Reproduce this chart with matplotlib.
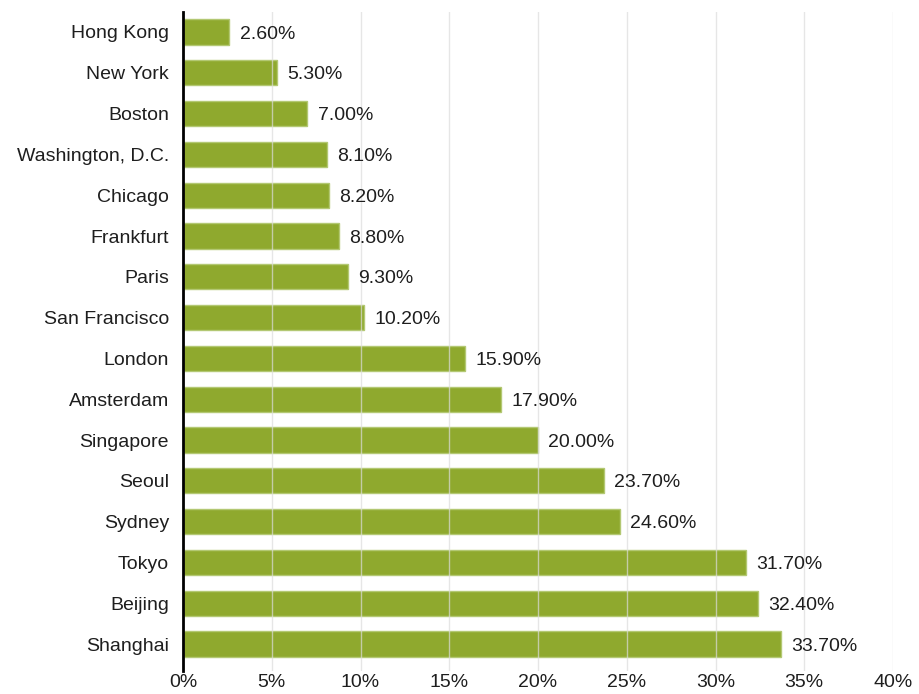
import matplotlib.pyplot as plt
from matplotlib.ticker import FuncFormatter

cities = ["Hong Kong", "New York", "Boston", "Washington, D.C.", "Chicago",
          "Frankfurt", "Paris", "San Francisco", "London", "Amsterdam",
          "Singapore", "Seoul", "Sydney", "Tokyo", "Beijing", "Shanghai"]
values = [2.6, 5.3, 7.0, 8.1, 8.2, 8.8, 9.3, 10.2, 15.9, 17.9,
          20.0, 23.7, 24.6, 31.7, 32.4, 33.7]
x_ticks = [0, 5, 10, 15, 20, 25, 30, 35, 40]

plt.rcParams['font.family'] = ['Liberation Sans', 'DejaVu Sans']
text_color = '#1e1e1e'

fig = plt.figure(figsize=(9.19, 6.94), dpi=100)
ax = fig.add_axes([183 / 919, 23 / 694, 710 / 919, 659 / 694])

y = list(range(len(cities)))
ax.barh(y, values, height=0.62, color='#8fa92e', edgecolor='#b3c873',
        linewidth=1.0, zorder=2)

for yi, v in zip(y, values):
    ax.annotate(f"{v:.2f}%", xy=(v, yi), xytext=(7.5, -1.5),
                textcoords='offset points', va='center', ha='left',
                fontsize=14, color=text_color, zorder=4)

ax.set_xlim(0, 40)
ax.set_ylim(len(cities) - 1 + 0.66, -0.49)
ax.set_xticks(x_ticks)
ax.xaxis.set_major_formatter(FuncFormatter(lambda v, p: f"{v:.0f}%"))
ax.set_yticks(y)
ax.set_yticklabels(cities)
ax.tick_params(axis='both', length=0, labelsize=14, colors=text_color)
ax.tick_params(axis='y', pad=10)
ax.tick_params(axis='x', pad=2.5)

ax.grid(axis='x', color='#dcdcdc', linewidth=1.0, alpha=0.7, zorder=3)
ax.set_axisbelow(False)
for side in ['top', 'right', 'bottom']:
    ax.spines[side].set_visible(False)
ax.spines['left'].set_color('black')
ax.spines['left'].set_linewidth(2)
ax.spines['left'].set_zorder(5)

fig.savefig('out.png', dpi=100)
